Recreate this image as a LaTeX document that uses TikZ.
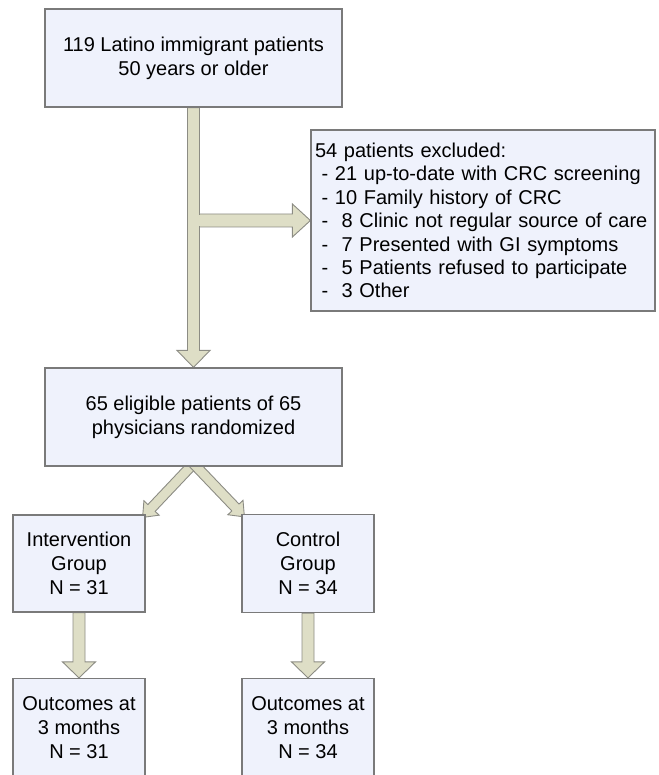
\documentclass[tikz,border=0pt]{standalone}
\usepackage{fontspec}
\setmainfont{Liberation Sans}
\usetikzlibrary{calc,backgrounds}
\definecolor{boxfill}{HTML}{EFF2FC}
\definecolor{boxline}{HTML}{7A7A7A}
\definecolor{arrfill}{HTML}{DEDEC6}
\definecolor{arrline}{HTML}{8C8C84}
\tikzset{
  box/.style={draw=boxline, fill=boxfill, line width=1.2pt, inner sep=0pt,
    align=center, font=\fontsize{20}{24}\selectfont},
  fatarr/.style={draw=arrline, fill=arrfill, line width=0.9pt, line join=miter}
}
\newcommand\fatarrow[5]{%
  \coordinate (fa-h) at ($(#2)!#5!(#1)$);
  \draw[fatarr] ($(#1)!#3!90:(#2)$) -- ($(fa-h)!#3!90:(#2)$) -- ($(fa-h)!#4!90:(#2)$)
    -- (#2) -- ($(fa-h)!#4!-90:(#2)$) -- ($(fa-h)!#3!-90:(#2)$) -- ($(#1)!#3!-90:(#2)$) -- cycle;
}
\begin{document}
\begin{tikzpicture}[x=1pt,y=-1pt]
\useasboundingbox (0,0) rectangle (658,775);
\node[box, minimum width=297pt, minimum height=98pt] (top) at (193.5,58)
  {119 Latino immigrant patients\\50 years or older};
\node[box, minimum width=344pt, minimum height=181pt, inner xsep=4pt,
  text width=336pt, align=left, font=\fontsize{20}{23.4}\selectfont] (excl) at (483,220.5)
  {54 patients excluded:\\
   \ - 21 up-to-date with CRC screening\\
   \ - 10 Family history of CRC\\
   \ -\ \ 8 Clinic not regular source of care\\
   \ -\ \ 7 Presented with GI symptoms\\
   \ -\ \ 5 Patients refused to participate\\
   \ -\ \ 3 Other};
\node[box, minimum width=297pt, minimum height=98pt] (mid) at (193.5,417)
  {65 eligible patients of 65\\physicians randomized};
\node[box, minimum width=132pt, minimum height=97pt] (grpL) at (79,563.5)
  {Intervention\\Group\\N = 31};
\node[box, minimum width=132pt, minimum height=98pt] (grpR) at (308,563.5)
  {Control\\Group\\N = 34};
\node[box, minimum width=132pt, minimum height=98pt] (outL) at (79,727.5)
  {Outcomes at\\3 months\\N = 31};
\node[box, minimum width=132pt, minimum height=98pt] (outR) at (308,727.5)
  {Outcomes at\\3 months\\N = 34};
\begin{pgfonlayer}{background}
  \fatarrow{top.south}{mid.north}{6pt}{16.5pt}{17pt}
  \coordinate (j) at ($(top.south |- excl.west)+(6,0)$);
  \fatarrow{j}{excl.west}{6.5pt}{16.5pt}{18pt}
  \fill[arrfill] ($(j)+(-1.2,-5.8)$) rectangle ($(j)+(1.2,5.8)$);
  \coordinate (apex) at ($(mid.south)+(0,-3)$);
  \coordinate (tipL) at ($(grpL.north east)+(-3,3)$);
  \coordinate (tipR) at ($(grpR.north west)+(3,3)$);
  \fatarrow{apex}{tipL}{5pt}{10.5pt}{13pt}
  \fatarrow{apex}{tipR}{5pt}{10.5pt}{13pt}
  \fatarrow{grpL.south}{outL.north}{6pt}{16.5pt}{16pt}
  \fatarrow{grpR.south}{outR.north}{6pt}{16.5pt}{16pt}
\end{pgfonlayer}
\end{tikzpicture}
\end{document}
